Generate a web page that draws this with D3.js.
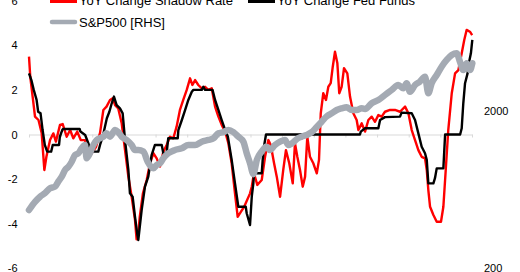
<!DOCTYPE html>
<html>
<head>
<meta charset="utf-8">
<script src="https://cdn.jsdelivr.net/npm/d3@7"></script>
<style>
	body { margin: 0; background: #fff; }
	svg { display: block; font-family: "Liberation Sans", Arial, sans-serif; }
</style>
</head>
<body>
<svg id="chart" width="520" height="272"></svg>
<script>
// YoY change in shadow rate, [year, pct pts]
const shadowRate = [
	[1995.0, 3.49], [1995.08, 2.59], [1995.23, 1.7], [1995.38, 0.8], [1995.6, 0.65], [1995.8, 0.07],
	[1995.97, -1.59], [1996.1, -1.0], [1996.33, -0.25], [1996.54, 0.05], [1996.7, -0.32], [1996.96, 0.43],
	[1997.13, 0.47], [1997.38, -0.1], [1997.6, 0.2], [1997.8, -0.17], [1998.05, 0.13], [1998.27, -0.25],
	[1998.54, -0.25], [1998.75, -1.07], [1998.96, -0.84], [1999.24, -0.55], [1999.49, 0.07], [1999.7, 1.1],
	[1999.9, 1.25], [2000.12, 1.55], [2000.29, 1.62], [2000.44, 1.32], [2000.64, 1.17], [2000.86, 0.5],
	[2001.07, -0.7], [2001.28, -1.89], [2001.49, -2.79], [2001.7, -3.83], [2001.8, -4.7], [2001.9, -4.5],
	[2002.0, -3.69], [2002.2, -2.64], [2002.44, -2.04], [2002.65, -1.29], [2002.86, -0.84], [2003.07, -1.07],
	[2003.28, -1.44], [2003.49, -0.77], [2003.7, -0.47], [2003.91, -0.1], [2004.12, -0.17], [2004.33, 0.35],
	[2004.54, 1.1], [2004.75, 1.55], [2004.97, 2.0], [2005.18, 2.52], [2005.33, 2.22], [2005.5, 2.44],
	[2005.7, 2.22], [2005.92, 2.07], [2006.13, 2.14], [2006.33, 2.0], [2006.55, 2.07], [2006.76, 1.25],
	[2006.97, 0.8], [2007.18, 0.43], [2007.4, 0.13], [2007.6, -0.39], [2007.81, -1.29], [2008.02, -2.64],
	[2008.19, -3.69], [2008.4, -3.46], [2008.6, -3.24], [2008.97, -2.64], [2009.08, -2.34], [2009.22, -1.74],
	[2009.43, -2.26], [2009.71, -2.04], [2009.92, -1.0], [2010.13, -0.25], [2010.28, -0.47], [2010.49, -1.29],
	[2010.66, -1.89], [2010.87, -2.79], [2011.07, -1.59], [2011.24, -0.7], [2011.45, -1.29], [2011.67, -2.19],
	[2011.81, -0.39], [2011.96, -1.0], [2012.13, -1.59], [2012.3, -2.34], [2012.45, -1.89], [2012.59, -0.1],
	[2012.76, -1.0], [2012.97, -1.29], [2013.19, -1.74], [2013.33, -1.14], [2013.44, 0.95], [2013.6, 1.85],
	[2013.77, 1.55], [2013.92, 2.14], [2014.07, 2.3], [2014.2, 3.04], [2014.34, 3.71], [2014.49, 3.19],
	[2014.61, 1.85], [2014.76, 2.14], [2014.91, 2.97], [2015.12, 2.74], [2015.29, 1.7], [2015.5, 0.95],
	[2015.71, 0.65], [2015.82, 0.2], [2016.03, 0.5], [2016.24, 0.13], [2016.45, 0.65], [2016.66, 0.8],
	[2016.87, 0.57], [2017.08, 0.87], [2017.29, 0.8], [2017.5, 1.02], [2017.82, 1.1], [2018.13, 1.1],
	[2018.45, 1.02], [2018.77, 1.25], [2018.98, 0.95], [2019.19, 0.2], [2019.4, -0.25], [2019.61, -0.7],
	[2019.82, -1.0], [2020.03, -1.07], [2020.14, -1.59], [2020.24, -2.49], [2020.35, -3.24], [2020.56, -3.61],
	[2020.77, -3.91], [2021.04, -3.91], [2021.19, -3.24], [2021.34, -1.59], [2021.5, 0.2], [2021.72, 1.85],
	[2021.93, 2.74], [2022.14, 2.89], [2022.35, 3.64], [2022.51, 4.24], [2022.66, 4.69], [2022.87, 4.61],
	[2023.01, 4.46]
];

// YoY change in effective fed funds rate, [year, pct pts]
const fedFunds = [
	[1995.0, 2.74], [1995.15, 2.44], [1995.3, 2.0], [1995.48, 1.55], [1995.58, 1.02], [1995.73, 0.95],
	[1995.86, 0.2], [1996.0, -0.47], [1996.15, -0.77], [1996.4, -0.77], [1996.5, -0.47], [1996.9, -0.47],
	[1996.95, -0.1], [1997.1, 0.2], [1997.15, 0.25], [1998.2, 0.25], [1998.25, 0.13], [1998.55, -0.02],
	[1998.75, -0.39], [1998.9, -0.77], [1999.38, -0.77], [1999.49, -0.47], [1999.66, -0.1], [1999.8, 0.35],
	[1999.92, 0.73], [2000.08, 1.02], [2000.23, 1.4], [2000.37, 1.7], [2000.54, 1.32], [2000.75, 1.17],
	[2000.92, 0.95], [2001.07, -0.25], [2001.28, -1.59], [2001.38, -2.64], [2001.55, -2.79], [2001.7, -3.69],
	[2001.85, -4.5], [2001.91, -4.73], [2002.12, -3.39], [2002.33, -2.34], [2002.54, -1.89], [2002.75, -0.92],
	[2002.96, -0.47], [2003.39, -0.47], [2003.49, -0.84], [2003.7, -0.84], [2003.8, -0.17], [2004.4, -0.17],
	[2004.44, 0.2], [2004.66, 0.65], [2004.87, 1.1], [2005.07, 1.55], [2005.29, 1.92], [2005.39, 2.0],
	[2005.92, 2.0], [2006.02, 2.14], [2006.13, 2.0], [2006.6, 2.0], [2006.76, 1.55], [2006.97, 1.1],
	[2007.18, 0.65], [2007.4, 0.2], [2007.57, -0.1], [2007.81, -1.14], [2008.02, -2.19], [2008.23, -3.24],
	[2008.7, -3.24], [2008.76, -3.53], [2008.97, -4.06], [2009.08, -2.79], [2009.18, -2.19], [2009.22, -1.74],
	[2009.71, -1.74], [2009.77, -1.14], [2009.85, -0.55], [2009.98, 0], [2015.92, 0], [2015.97, 0.13],
	[2016.24, 0.28], [2017.08, 0.28], [2017.19, 0.65], [2017.5, 0.78], [2018.45, 0.8], [2018.55, 0.98],
	[2019.19, 0.95], [2019.4, 0.65], [2019.61, 0.05], [2019.82, -0.55], [2020.03, -0.84], [2020.14, -1.14],
	[2020.24, -2.19], [2020.56, -2.19], [2020.66, -1.96], [2020.77, -1.52], [2021.19, -1.52], [2021.3, 0],
	[2022.25, 0], [2022.35, 0.28], [2022.45, 1.4], [2022.56, 2.3], [2022.72, 2.74], [2022.8, 3.19],
	[2022.93, 3.64], [2023.02, 4.24]
];

// S&P500 index level (right axis, log), [year, level]
const spx = [
	[1995.0, 466], [1995.38, 526], [1995.7, 567], [1996.0, 596], [1996.33, 641], [1996.64, 657],
	[1996.85, 707], [1997.07, 761], [1997.28, 840], [1997.49, 881], [1997.7, 948], [1997.91, 1047],
	[1998.12, 1074], [1998.33, 1156], [1998.54, 1213], [1998.64, 998], [1998.85, 1074], [1999.07, 1213],
	[1999.28, 1306], [1999.49, 1339], [1999.7, 1371], [1999.9, 1441], [2000.12, 1371], [2000.44, 1513],
	[2000.64, 1465], [2000.86, 1371], [2001.17, 1306], [2001.49, 1213], [2001.7, 1127], [2001.91, 1127],
	[2002.23, 1101], [2002.5, 948], [2002.86, 861], [2003.07, 904], [2003.28, 927], [2003.49, 998],
	[2003.8, 1074], [2004.23, 1127], [2004.66, 1156], [2005.07, 1213], [2005.5, 1213], [2005.92, 1273],
	[2006.34, 1306], [2006.66, 1339], [2006.97, 1441], [2007.29, 1465], [2007.6, 1513], [2007.92, 1465],
	[2008.23, 1371], [2008.55, 1273], [2008.76, 1074], [2008.97, 927], [2009.18, 790], [2009.4, 973],
	[2009.7, 1099], [2010.0, 1183], [2010.22, 1127], [2010.55, 1213], [2010.87, 1273], [2011.18, 1306],
	[2011.39, 1213], [2011.6, 1240], [2012.0, 1339], [2012.24, 1371], [2012.55, 1405], [2012.87, 1465],
	[2013.2, 1588], [2013.5, 1710], [2013.8, 1841], [2014.13, 1933], [2014.45, 2029], [2014.76, 2080],
	[2015.08, 2113], [2015.4, 2029], [2015.71, 2029], [2016.03, 2080], [2016.24, 2060], [2016.66, 2240],
	[2017.08, 2350], [2017.5, 2530], [2017.92, 2724], [2018.34, 2932], [2018.66, 2793], [2018.87, 3007],
	[2019.08, 2655], [2019.4, 2932], [2019.7, 3080], [2020.03, 3311], [2020.24, 2596], [2020.45, 3007],
	[2020.77, 3397], [2021.08, 3838], [2021.4, 4236], [2021.72, 4557], [2022.03, 4674], [2022.24, 4130],
	[2022.45, 3655], [2022.66, 4036], [2022.87, 3655], [2023.02, 4036]
];

const leftTicks = [-6, -4, -2, 0, 2, 4, 6];
const rightTicks = [200, 2000];
const yearTicks = d3.range(1995, 2024, 2);

const legendItems = [
	{ label: 'YoY Change Shadow Rate', color: '#ff0000', width: 6, cap: 'butt', x: 50, y: 0 },
	{ label: 'YoY Change Fed Funds', color: '#000000', width: 6, cap: 'butt', x: 248, y: 0 },
	{ label: 'S&P500 [RHS]', color: '#a4aab3', width: 4.5, cap: 'round', x: 50, y: 22 },
];

const svg = d3.select('#chart');

const x = d3.scaleLinear().domain([1995, 2023]).range([29, 472]);
const yL = d3.scaleLinear().domain([-6, 6]).range([268.3, 0.7]);
const yR = d3.scaleLog().domain([200, 2000]).range([267.5, 111]);

// Zero line with small year ticks
const gZero = svg.append('g')
	.attr('transform', `translate(0,${yL(0)})`)
	.call(d3.axisBottom(x).tickValues(yearTicks).tickSize(3).tickSizeOuter(0).tickFormat(''));
gZero.selectAll('path, line').attr('stroke', '#d9d9d9').attr('stroke-width', 1);

// Left axis labels
const gLeft = svg.append('g')
	.attr('transform', 'translate(20,0)')
	.call(d3.axisLeft(yL).tickValues(leftTicks).tickSize(0).tickPadding(2.5).tickFormat(d => String(d)));
gLeft.select('.domain').remove();
gLeft.selectAll('text').attr('font-size', 11).attr('fill', '#000').attr('font-family', null);

// Right axis labels
const gRight = svg.append('g')
	.attr('transform', 'translate(481,0)')
	.call(d3.axisRight(yR).tickValues(rightTicks).tickSize(0).tickPadding(3).tickFormat(d3.format('d')));
gRight.select('.domain').remove();
gRight.selectAll('text').attr('font-size', 11).attr('fill', '#000').attr('font-family', null);

const lineL = d3.line().x(d => x(d[0])).y(d => yL(d[1]));
const lineR = d3.line().x(d => x(d[0])).y(d => yR(d[1])).curve(d3.curveMonotoneX);

svg.append('path').datum(shadowRate)
	.attr('d', lineL).attr('fill', 'none')
	.attr('stroke', '#ff0000').attr('stroke-width', 2.4).attr('stroke-linejoin', 'round');

svg.append('path').datum(fedFunds)
	.attr('d', lineL).attr('fill', 'none')
	.attr('stroke', '#000').attr('stroke-width', 2.4).attr('stroke-linejoin', 'round');

// secondary axis series sits on top
svg.append('path').datum(spx)
	.attr('d', lineR).attr('fill', 'none')
	.attr('stroke', '#a4aab3').attr('stroke-width', 6.5).attr('stroke-linejoin', 'round')
	.attr('stroke-linecap', 'round');

// Legend
const gLegend = svg.append('g');
legendItems.forEach((item) => {
	gLegend.append('line')
		.attr('x1', item.x + (item.cap === 'round' ? 2 : 0)).attr('x2', item.x + (item.cap === 'round' ? 25 : 27))
		.attr('y1', item.y).attr('y2', item.y)
		.attr('stroke', item.color).attr('stroke-width', item.width).attr('stroke-linecap', item.cap);
	gLegend.append('text')
		.attr('x', item.x + 29).attr('y', item.y + 5.3)
		.attr('font-size', 13).attr('fill', '#000')
		.text(item.label);
});
</script>
</body>
</html>
